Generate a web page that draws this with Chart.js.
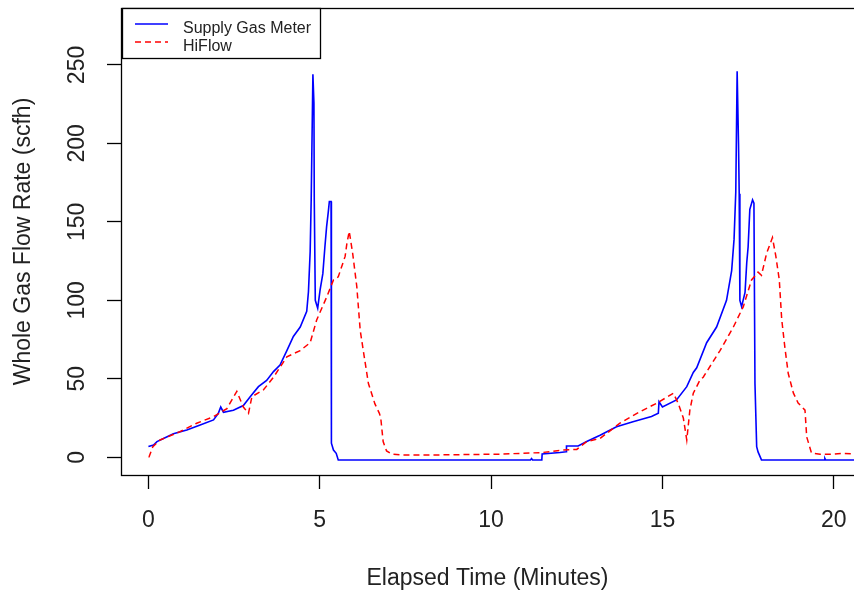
<!DOCTYPE html>
<html>
<head>
<meta charset="utf-8">
<title>Whole Gas Flow Rate</title>
<script src="https://cdn.jsdelivr.net/npm/chart.js@4"></script>
<style>
  html, body { margin: 0; padding: 0; background: #fff; }
  #wrap { width: 854px; height: 593px; position: relative; }
</style>
</head>
<body>
<div id="wrap"><canvas id="flowChart"></canvas></div>
<script>
// Supply gas meter readings (minutes, scfh)
const supplyTime = [
    0.00, 0.15, 0.25, 0.44, 0.73, 1.12, 1.51, 1.90, 2.04, 2.11, 2.19, 2.48, 2.77, 2.97,
    3.21, 3.45, 3.65, 3.84, 4.04, 4.23, 4.43, 4.62, 4.67, 4.72, 4.75, 4.80, 4.83, 4.84,
    4.87, 4.94, 5.01, 5.09, 5.15, 5.20, 5.25, 5.28, 5.33, 5.34, 5.40, 5.48, 5.54,
    11.15, 11.18, 11.21, 11.48, 11.49, 12.01, 12.19, 12.20, 12.54, 12.79, 13.18, 13.66,
    14.14, 14.68, 14.88, 14.90, 15.00, 15.41, 15.71, 15.90, 16.00, 16.29, 16.58, 16.87,
    17.02, 17.09, 17.14, 17.18, 17.22, 17.24, 17.26, 17.31, 17.41, 17.46, 17.50, 17.55,
    17.63, 17.67, 17.70, 17.75, 17.79, 17.89, 19.72, 19.74, 19.76, 20.70
];
const supplyFlow = [
    6.8, 7.8, 10, 12, 15, 17.4, 20.6, 23.8, 28, 32, 28.7, 30, 33, 38.6,
    45, 49, 54.6, 58.8, 68, 77, 83, 93, 105.5, 131, 164, 244, 225.6, 164,
    100, 95, 106.6, 117, 134, 147, 156.5, 163, 163, 9, 4.6, 2.5, -1.7,
    -1.7, -0.8, -1.7, -1.7, 2.1, 3, 3.5, 7.2, 7.2, 10, 14, 19.5,
    22.7, 26, 28, 35.4, 32, 36.5, 45, 54, 57, 73, 83, 100,
    119, 139, 169, 246, 200, 168, 100, 96, 105, 124, 134, 158,
    164, 162, 47, 6.8, 3.4, -1.7, -1.7, -0.8, -1.7, -1.7
];

// HiFlow sampler readings (minutes, scfh)
const hiflowTime = [
    0.00, 0.02, 0.13, 0.34, 0.92, 1.41, 1.90, 2.29, 2.58, 2.77, 2.92, 3.02, 3.36, 3.65,
    4.04, 4.43, 4.72, 4.91, 5.20, 5.40, 5.54, 5.74, 5.79, 5.86, 5.96, 6.08, 6.18, 6.27,
    6.42, 6.61, 6.74, 6.78, 6.85, 6.95, 7.10, 7.40, 8.50, 10.26, 11.48, 12.10, 12.50,
    12.79, 13.18, 13.76, 14.34, 14.83, 15.32, 15.46, 15.61, 15.71, 15.80, 15.90, 16.09,
    16.19, 16.68, 17.07, 17.36, 17.60, 17.79, 17.89, 18.04, 18.21, 18.31, 18.41, 18.48,
    18.57, 18.67, 18.82, 18.96, 19.16, 19.21, 19.35, 19.60, 20.00, 20.30, 20.70
];
const hiflowFlow = [
    0.4, 0.4, 6.8, 11, 16.3, 21.7, 25.9, 31, 42, 32, 28, 38.6, 43, 51,
    64, 68, 73, 87.5, 102, 113, 115, 128, 136, 144, 130, 109, 81, 68,
    47, 34, 28, 25, 10, 4, 2, 1.5, 1.5, 2, 3, 4.6, 5,
    10, 12, 21.7, 29, 34.4, 40.8, 34.4, 25, 11, 30, 40.8, 49,
    51, 68, 83, 96, 113, 118, 116, 130, 140, 128, 113, 88,
    70.5, 53.5, 41, 34.6, 30, 13, 2.7, 2, 2, 2.5, 2
];

const xTicks = [0, 5, 10, 15, 20];
const yTicks = [0, 50, 100, 150, 200, 250];

const FONT = "'Liberation Sans', Arial, sans-serif";

function toPoints(xs, ys) {
    return xs.map((x, i) => ({ x: x, y: ys[i] }));
}

// Box around the plot region plus rotated y tick labels
const frame = {
    id: 'frame',
    afterDraw(chart) {
        const ctx = chart.ctx;
        const a = chart.chartArea;
        ctx.save();
        ctx.strokeStyle = '#000';
        ctx.lineWidth = 1.3;
        ctx.strokeRect(a.left + 0.5, a.top + 0.5, a.right - a.left + 5, a.bottom - a.top);

        const yScale = chart.scales.y;
        ctx.fillStyle = '#222';
        ctx.font = '23px ' + FONT;
        ctx.textAlign = 'center';
        ctx.textBaseline = 'middle';
        yScale.ticks.forEach(t => {
            const py = yScale.getPixelForValue(t.value);
            ctx.save();
            ctx.translate(78, py);
            ctx.rotate(-Math.PI / 2);
            ctx.fillText(String(t.value), 0, 0);
            ctx.restore();
        });
        ctx.restore();
    }
};

// Legend box in the top-left corner
const legendBox = {
    id: 'legendBox',
    afterDraw(chart) {
        const ctx = chart.ctx;
        const x0 = 122, y0 = 8, w = 198, h = 50;
        ctx.save();
        ctx.fillStyle = '#fff';
        ctx.fillRect(x0, y0, w, h);
        ctx.strokeStyle = '#000';
        ctx.lineWidth = 1.3;
        ctx.strokeRect(x0 + 0.5, y0 + 0.5, w, h);

        const rows = [24, 42];
        ctx.font = '16px ' + FONT;
        ctx.textAlign = 'left';
        ctx.textBaseline = 'alphabetic';
        chart.data.datasets.forEach((ds, i) => {
            const ly = rows[i];
            ctx.strokeStyle = ds.borderColor;
            ctx.lineWidth = 1.5;
            ctx.setLineDash(ds.borderDash || []);
            ctx.beginPath();
            ctx.moveTo(135, ly);
            ctx.lineTo(168, ly);
            ctx.stroke();
            ctx.setLineDash([]);
            ctx.fillStyle = '#222';
            ctx.fillText(ds.label, 183, ly + 9);
        });
        ctx.restore();
    }
};

const ctx = document.getElementById('flowChart').getContext('2d');
new Chart(ctx, {
    type: 'line',
    data: {
        datasets: [
            {
                label: 'Supply Gas Meter',
                data: toPoints(supplyTime, supplyFlow),
                borderColor: '#0000ff',
                borderWidth: 1.6,
                pointRadius: 0,
                tension: 0,
                order: 2
            },
            {
                label: 'HiFlow',
                data: toPoints(hiflowTime, hiflowFlow),
                borderColor: '#ff0000',
                borderWidth: 1.5,
                borderDash: [6, 4],
                pointRadius: 0,
                tension: 0,
                order: 1
            }
        ]
    },
    options: {
        responsive: true,
        maintainAspectRatio: false,
        animation: false,
        layout: { padding: { top: 8, right: 0, bottom: 0, left: 0 } },
        plugins: {
            legend: { display: false },
            tooltip: { enabled: false }
        },
        scales: {
            x: {
                type: 'linear',
                min: -0.8,
                max: 20.59,
                afterBuildTicks: s => { s.ticks = xTicks.map(v => ({ value: v })); },
                afterFit: s => {
                    s.height = 118;
                    s.paddingLeft = 0;
                    s.paddingRight = 0;
                },
                grid: { drawOnChartArea: false, drawTicks: true, tickLength: 14, tickColor: '#000', tickWidth: 1.3 },
                border: { display: false },
                ticks: {
                    color: '#222',
                    padding: 18,
                    maxRotation: 0,
                    font: { family: FONT, size: 23 }
                },
                title: {
                    display: true,
                    text: 'Elapsed Time (Minutes)',
                    color: '#222',
                    padding: { top: 0, bottom: 1 },
                    font: { family: FONT, size: 23 }
                }
            },
            y: {
                type: 'linear',
                min: -11.3,
                max: 286.3,
                afterBuildTicks: s => { s.ticks = yTicks.map(v => ({ value: v })); },
                afterFit: s => {
                    s.width = 121;
                    s.paddingTop = 0;
                    s.paddingBottom = 0;
                },
                grid: { drawOnChartArea: false, drawTicks: true, tickLength: 14, tickColor: '#000', tickWidth: 1.3 },
                border: { display: false },
                ticks: { display: false },
                title: {
                    display: true,
                    text: 'Whole Gas Flow Rate (scfh)',
                    color: '#222',
                    padding: { top: 10, bottom: 0 },
                    font: { family: FONT, size: 23 }
                }
            }
        }
    },
    plugins: [frame, legendBox]
});
</script>
</body>
</html>
